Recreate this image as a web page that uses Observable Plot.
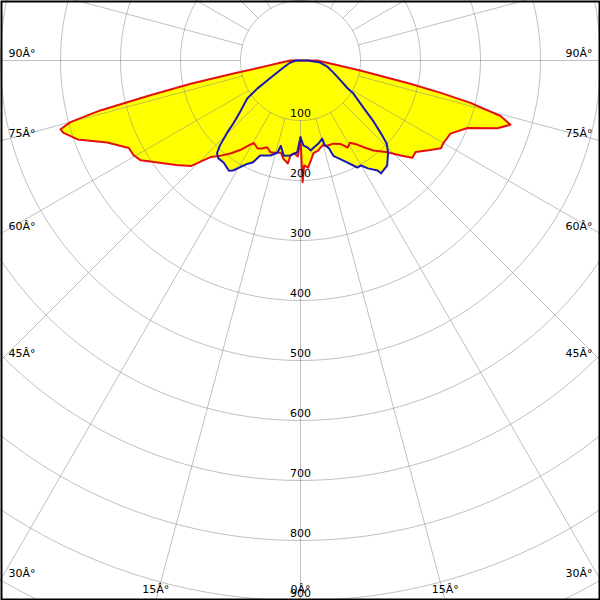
<!DOCTYPE html>
<html><head><meta charset="utf-8">
<script src="https://cdn.jsdelivr.net/npm/d3@7"></script>
<script src="https://cdn.jsdelivr.net/npm/@observablehq/plot@0.6"></script>
<style>
body{margin:0;background:#fff}
#chart{width:600px;height:600px;overflow:hidden;position:relative}
</style>
</head><body><div id="chart"></div>
<script>
// C0 plane (right half), gamma in degrees and intensity (cd/klm)
const c0Gamma = [0,1,2,4,6,8,11,14.5,17.5,21.5,25.5,28.5,31,34,36.5,39,43.5,46.5,49,51.5,55,58,60,64,68,71,73,74.5,76,77,78,80.5,83,90];
const c0Value = [128,203,175,179,167,156,153,146,149,149,154,165,160,169,181,193,211,230,247,245,261,276,275,278,300,347,366,346,292,240,187,101,59,28];
// C180 plane (left half)
const c180Gamma = [0,1.5,4,6,7,10,12,15,18,21,23.5,26,29.5,31,34,37,40,43,46,50,54,58,60.5,63,67,70.5,73,74,75,76,77,78,79,80.5,83.5,90];
const c180Value = [128,160,155,159,173,166,157,159,161,155,160,163,158,164,180,194,207,220,253,271,290,314,320,321,350,394,413,416,397,344,257,187,110,62,34,17];
// C90 plane (right half)
const c90Gamma = [0,2,4.5,6.5,8.5,12,15.5,16,18,19,23,28,30,32,35,35.5,39.5,43.5,46,48,50,53,58,59.5,63.5,70,77,84,90];
const c90Value = [128,142,145,151,147,142,135,147,154,168,181,202,202,212,224,231,227,212,200,179,160,132,104,91,75,58,46,33,12];
// C270 plane (left half)
const c270Gamma = [0,2,6,10,13,14,17.5,23,25,27,29.5,31.5,33,37,40,42,43.5,45.5,47,50,54.5,57,61,68,78,90];
const c270Value = [128,153,159,161,146,158,166,172,187,193,204,215,219,213,213,208,195,171,152,130,109,86,51,30,18,8];

const ringValues = [100,200,300,400,500,600,700,800,900,1000];
const ringLabels = ["100","200","300","400","500","600","700","800","900"];
const spokeAngles = d3.range(0, 360, 15);
const angleLabelGamma = [90,75,60,45,30,15,0,15,30,45,60,75,90];
const angleLabelSide  = [-1,-1,-1,-1,-1,-1,0,1,1,1,1,1,1];
const angleLabelText  = ["90Â°","75Â°","60Â°","45Â°","30Â°","15Â°","0Â°","15Â°","30Â°","45Â°","60Â°","75Â°","90Â°"];

const rad = Math.PI / 180;
function half(gammas, values, side) {
  return gammas.map((g, i) => ({x: side * values[i] * Math.sin(g * rad), y: values[i] * Math.cos(g * rad)}));
}
function polygon(gr, vr, gl, vl) {
  const right = half(gr, vr, 1);
  const left = half(gl, vl, -1).reverse();
  const pts = right.concat(left);
  pts.push(pts[0]);
  return pts;
}
const redPoly = polygon(c0Gamma, c0Value, c180Gamma, c180Value);
const bluePoly = polygon(c90Gamma, c90Value, c270Gamma, c270Value);

const ringPts = [];
ringValues.forEach(r => {
  for (let a = 0; a <= 360; a += 2) ringPts.push({ring: r, x: r * Math.sin(a * rad), y: r * Math.cos(a * rad)});
});
const spokePts = [];
spokeAngles.forEach(a => {
  spokePts.push({a, x: 100 * Math.sin(a * rad), y: 100 * Math.cos(a * rad)});
  spokePts.push({a, x: 2000 * Math.sin(a * rad), y: 2000 * Math.cos(a * rad)});
});

const xMax = 500, yMin = -100, yMax = 900;
const angleLabels = angleLabelGamma.map((g, i) => {
  const s = angleLabelSide[i];
  const sx = Math.sin(g * rad), cy = Math.cos(g * rad);
  const tx = sx > 1e-9 ? xMax / sx : Infinity;
  const ty = cy > 1e-9 ? yMax / cy : Infinity;
  const t = Math.min(tx, ty);
  const bottom = ty <= tx;
  return {x: (s || 0) * t * sx, y: t * cy, text: angleLabelText[i], side: s, bottom};
});
const ringLabelData = ringLabels.map((t, i) => ({x: 0, y: ringValues[i], text: t}));

const gridStroke = "#8c8c8c", gridOpacity = 0.55;
const plot = Plot.plot({
  width: 600, height: 600,
  margin: 0,
  style: {fontFamily: "DejaVu Sans, sans-serif", fontSize: "11px", background: "white"},
  x: {domain: [-xMax, xMax], range: [0, 600], axis: null},
  y: {domain: [yMin, yMax], range: [0, 600], axis: null},
  marks: [
    Plot.line(redPoly, {x: "x", y: "y", fill: "#ffff00", stroke: "none", curve: "linear"}),
    Plot.line(bluePoly, {x: "x", y: "y", fill: "#ffff00", stroke: "none", curve: "linear"}),
    Plot.line(ringPts, {x: "x", y: "y", z: "ring", stroke: gridStroke, strokeOpacity: gridOpacity, strokeWidth: 1, clip: true}),
    Plot.line(spokePts, {x: "x", y: "y", z: "a", stroke: gridStroke, strokeOpacity: gridOpacity, strokeWidth: 1, clip: true}),
    Plot.line(redPoly, {x: "x", y: "y", stroke: "#e31010", strokeWidth: 2, curve: "linear"}),
    Plot.line(bluePoly, {x: "x", y: "y", stroke: "#1a1ab0", strokeWidth: 2, curve: "linear"}),
    Plot.text(ringLabelData, {x: "x", y: "y", text: "text", dy: -7, fill: "black", fontSize: 11}),
    Plot.text(angleLabels.filter(d => !d.bottom && d.side < 0), {x: "x", y: "y", text: "text", textAnchor: "start", dx: 8, dy: -7, fill: "black", fontSize: 11}),
    Plot.text(angleLabels.filter(d => !d.bottom && d.side > 0), {x: "x", y: "y", text: "text", textAnchor: "end", dx: -8, dy: -7, fill: "black", fontSize: 11}),
    Plot.text(angleLabels.filter(d => d.bottom), {x: "x", y: "y", text: "text", textAnchor: "middle", dy: -11, fill: "black", fontSize: 11}),
    Plot.frame({stroke: "black", strokeWidth: 2, inset: 1})
  ]
});
document.getElementById("chart").appendChild(plot);
</script>
</body></html>
